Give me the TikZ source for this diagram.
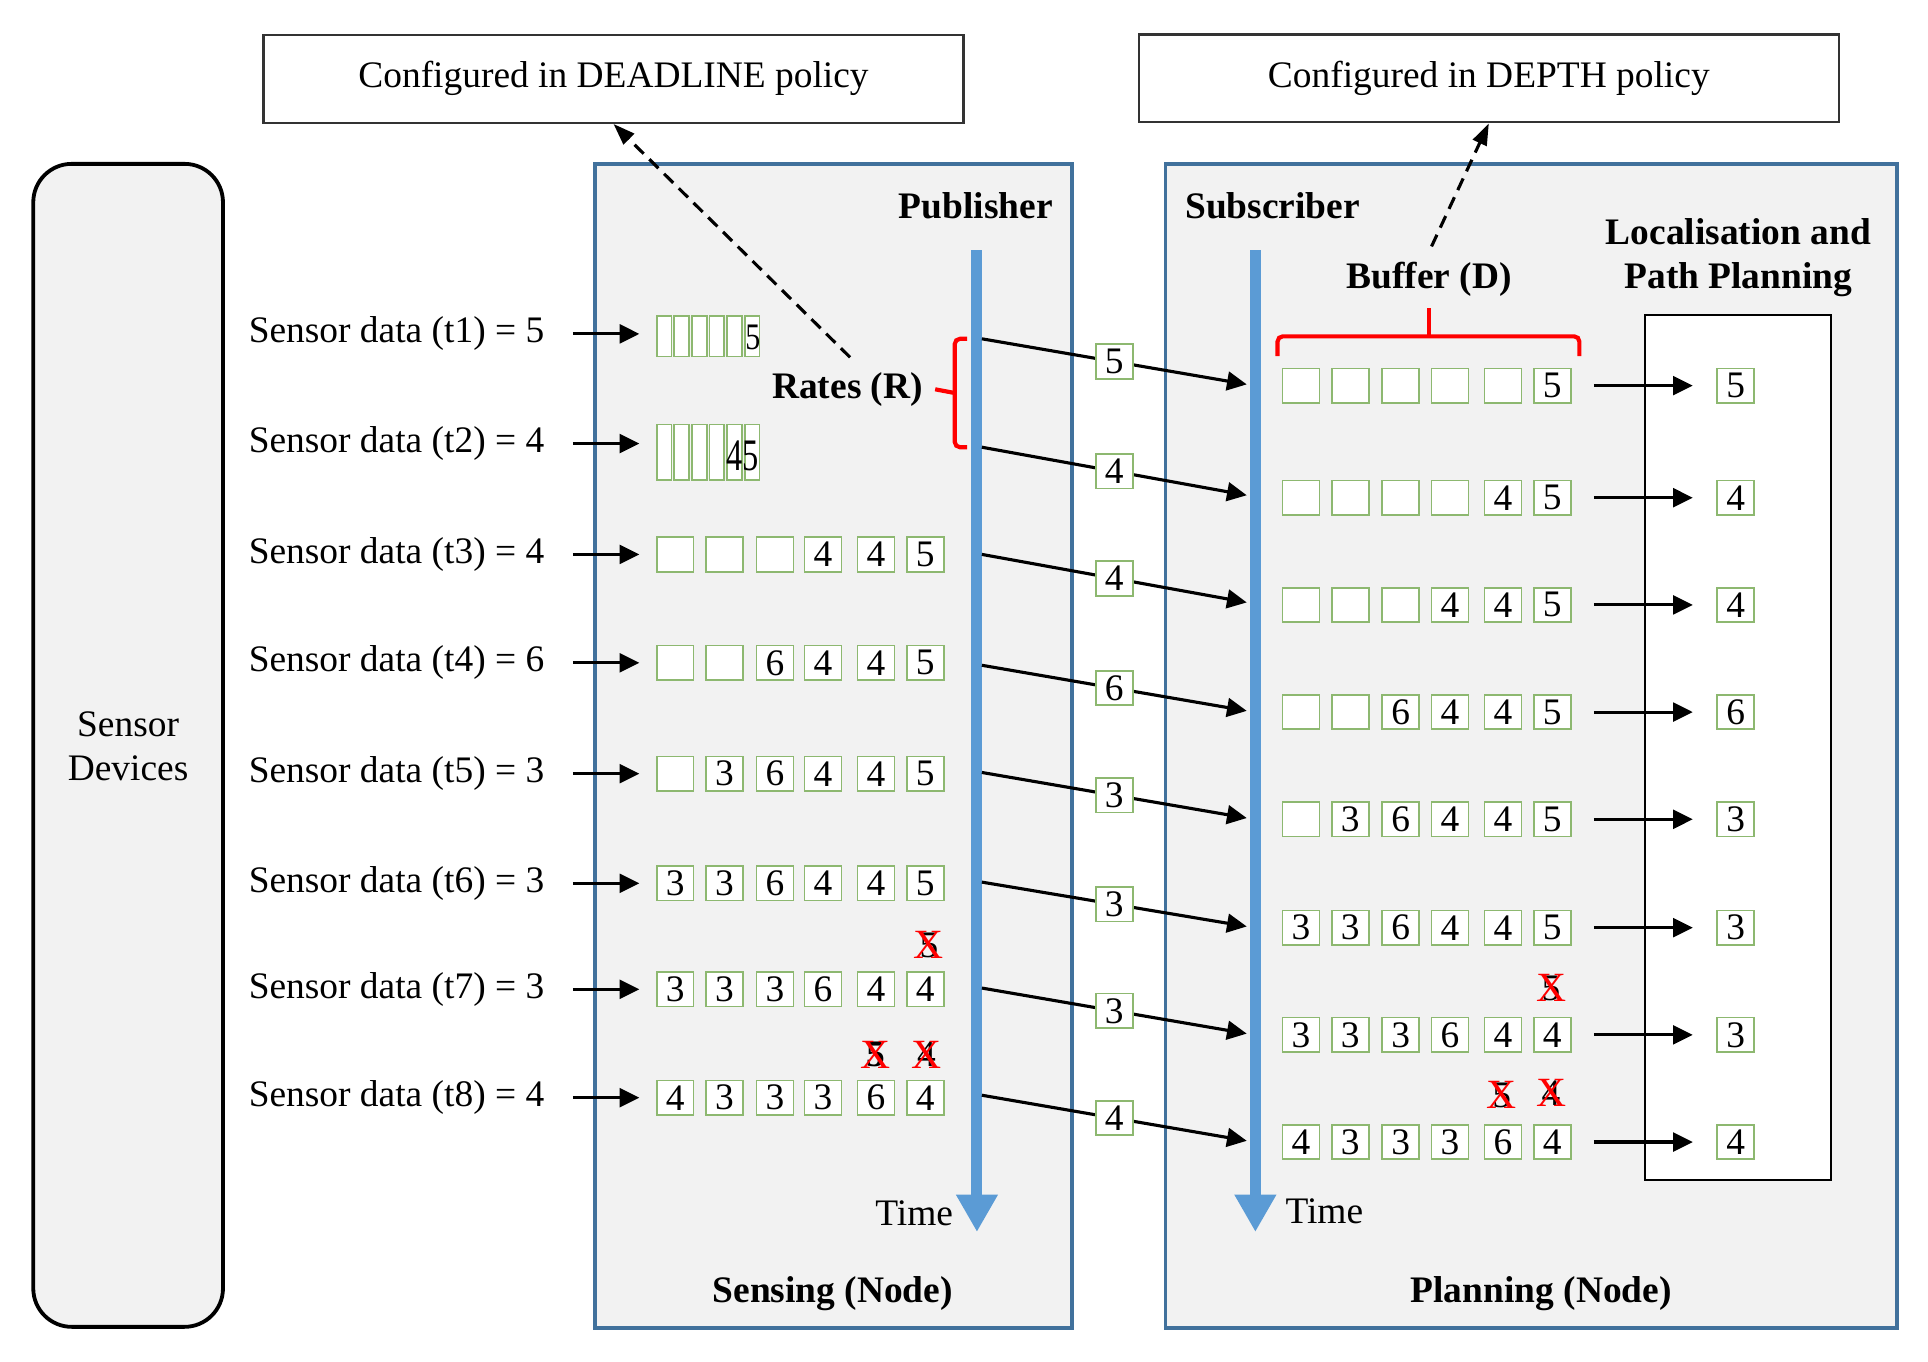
\documentclass[tikz,border=0pt]{standalone}
\usepackage{fontspec}
\setmainfont{Liberation Serif}
\usetikzlibrary{arrows.meta}
\definecolor{panelfill}{HTML}{F2F2F2}
\definecolor{panelline}{HTML}{41719C}
\definecolor{timeblue}{HTML}{5B9BD5}
\definecolor{cellgreen}{HTML}{8DB870}
\definecolor{xred}{HTML}{FF0000}
\begin{document}
\begin{tikzpicture}[x=0.0125cm,y=-0.0125cm,
  font=\fontsize{10.8}{12.8}\selectfont,
  cell/.style={draw=cellgreen, fill=white, line width=0.5pt, minimum width=0.375cm, minimum height=0.35cm, inner sep=0pt},
  slim/.style={draw=cellgreen, fill=white, line width=0.5pt, minimum width=0.15cm, inner sep=0pt},
  panel/.style={draw=panelline, fill=panelfill, line width=1.1pt},
  topbox/.style={draw=black!80, fill=white, line width=0.7pt, minimum width=7.1cm, minimum height=0.89cm, inner sep=0pt},
  arr/.style={line width=0.9pt, -{Triangle[length=0.2cm,width=0.19cm]}},
  dasharr/.style={line width=0.9pt, dash pattern=on 0.13cm off 0.08cm, -{Triangle[length=0.22cm,width=0.15cm]}},
  timearrow/.style={draw=timeblue, line width=3.2pt, -{Triangle[length=0.38cm,width=0.4cm]}},
  title/.style={font=\fontsize{10.8}{12.8}\selectfont\bfseries},
  xmark/.style={text=xred, font=\fontsize{12}{12}\selectfont, inner sep=0pt},
  brace/.style={draw=xred, line width=1.2pt, rounded corners=1.5pt}
]
\useasboundingbox (0,0) rectangle (1565,1105);

% Sensor devices
\draw[line width=1.1pt, fill=panelfill, rounded corners=0.39cm] (27,133) rectangle (181,1077);
\node[align=center] (sdev) at (104,606) {Sensor\\Devices};

% panels
\draw[panel] (483,133) rectangle (870,1078);
\draw[panel] (946,133) rectangle (1540,1078);

% top boxes
\node[topbox] (cfg1) at (498,64) {Configured in DEADLINE policy};
\node[topbox] (cfg2) at (1208.5,63.5) {Configured in DEPTH policy};

% titles
\node[title] (pub) at (792,167) {Publisher};
\node[title] (sub) at (1033,167) {Subscriber};
\node[title] (buf) at (1160,227) {Buffer (D)};
\node[title, align=center] (loc) at (1411,209) {Localisation and\\Path Planning};
\node[title] (sens) at (676,1050) {Sensing (Node)};
\node[title] (plan) at (1251,1050) {Planning (Node)};
\node[title] (rates) at (688,316) {Rates (R)};

% localisation box
\draw[line width=0.6pt, fill=white] (1335,256) rectangle (1486,958);

% time arrows
\coordinate (ta1) at (793,203);
\coordinate (tb1) at (793,1000);
\coordinate (ta2) at (1019,203);
\coordinate (tb2) at (1019,1000);
\draw[timearrow] (ta1) -- (tb1);
\draw[timearrow] (ta2) -- (tb2);
\node (time1) at (742,985) {Time};
\node (time2) at (1075,983) {Time};

% braces
\coordinate (rb) at (775,319);
\draw[brace] (785,275) -- (775,275) -- (775,363) -- (785,363);
\draw[brace] (rb) -- (rates.east);
\coordinate (bb) at (1160,273);
\draw[brace] (1037,289) -- (1037,273) -- (1282,273) -- (1282,289);
\draw[brace] (bb) -- (1160,250);

% dashed arrows
\coordinate (rd) at (690,290);
\coordinate (bd) at (1162,200);
\draw[dasharr] (rd) -- (cfg1.south);
\draw[dasharr] (bd) -- (cfg2.south);

% sensor data texts and arrows
\foreach \r/\y/\v in {1/271/5,2/360/4,3/450/4,4/538/6,5/628/3,6/717/3,7/803/3,8/891/4}{
  \node[anchor=west] (s\r) at (192,\y) {Sensor data (t\r) = \v};
  \coordinate (sa\r) at (465,\y);
  \coordinate (sb\r) at (519,\y);
  \draw[arr] (sa\r) -- (sb\r);
}

% slim cells t1, t2
\foreach \i in {1,...,6}{
  \pgfmathsetmacro\xx{539+14.3*(\i-1)}
  \node[slim, minimum height=0.41cm] (p1-\i) at (\xx,273) {};
  \node[slim, minimum height=0.56cm] (p2-\i) at (\xx,367) {};
}
\node[xscale=0.8] (d1) at (611,274) {5};
\node[font=\fontsize{13}{13}\selectfont, xscale=0.72] (d2) at (603,370) {45};

% publisher rows
\foreach \r/\y/\vals in {3/450/{{},{},{},4,4,5}, 4/538/{{},{},6,4,4,5}, 5/628/{{},3,6,4,4,5}, 6/717/{3,3,6,4,4,5}, 7/803/{3,3,3,6,4,4}, 8/891/{4,3,3,3,6,4}}{
  \foreach \v [count=\i] in \vals {
    \pgfmathsetmacro\xx{{548,588,629,668,711,751}[\i-1]}
    \node[cell] (p\r-\i) at (\xx,\y) {\v};
  }
}

% subscriber rows
\foreach \r/\y/\vals in {1/313/{{},{},{},{},{},5}, 2/404/{{},{},{},{},4,5}, 3/491/{{},{},{},4,4,5}, 4/578/{{},{},6,4,4,5}, 5/665/{{},3,6,4,4,5}, 6/753/{3,3,6,4,4,5}, 7/840/{3,3,3,6,4,4}, 8/927/{4,3,3,3,6,4}}{
  \foreach \v [count=\i] in \vals {
    \pgfmathsetmacro\xx{{1056,1096,1137,1177,1220,1260}[\i-1]}
    \node[cell] (q\r-\i) at (\xx,\y) {\v};
  }
}

% transfer lines publisher -> subscriber
\foreach \r/\ys/\ye/\v in {1/275/312/5, 2/363/402/4, 3/450/489/4, 4/540/577/6, 5/627/664/3, 6/716/752/3, 7/802/839/3, 8/889/926/4}{
  \coordinate (ps\r) at (797,\ys);
  \coordinate (pe\r) at (1012,\ye);
  \draw[arr] (ps\r) -- node[cell] (lab\r) {\v} (pe\r);
}

% outputs
\foreach \r/\y/\v in {1/313/5, 2/404/4, 3/491/4, 4/578/6, 5/665/3, 6/753/3, 7/840/3, 8/927/4}{
  \node[cell] (o\r) at (1409,\y) {\v};
  \draw[arr] ([xshift=0.225cm]q\r-6.east) -- ([xshift=-0.24cm]o\r.west);
}

% dropped samples
\node (xp7) at (754,767) {5};
\node[xmark] (xxp7) at (754,767) {X};
\node[font=\fontsize{10.8}{12.8}\selectfont\bfseries] (xp8a) at (711,856) {5};
\node[xmark] (xxp8a) at (711,856) {X};
\node (xp8b) at (752,856) {4};
\node[xmark] (xxp8b) at (752,856) {X};
\node (xq7) at (1259,802) {5};
\node[xmark] (xxq7) at (1259,802) {X};
\node (xq8a) at (1219,889) {5};
\node[xmark] (xxq8a) at (1219,889) {X};
\node (xq8b) at (1259,887) {4};
\node[xmark] (xxq8b) at (1259,887) {X};
\end{tikzpicture}
\end{document}
